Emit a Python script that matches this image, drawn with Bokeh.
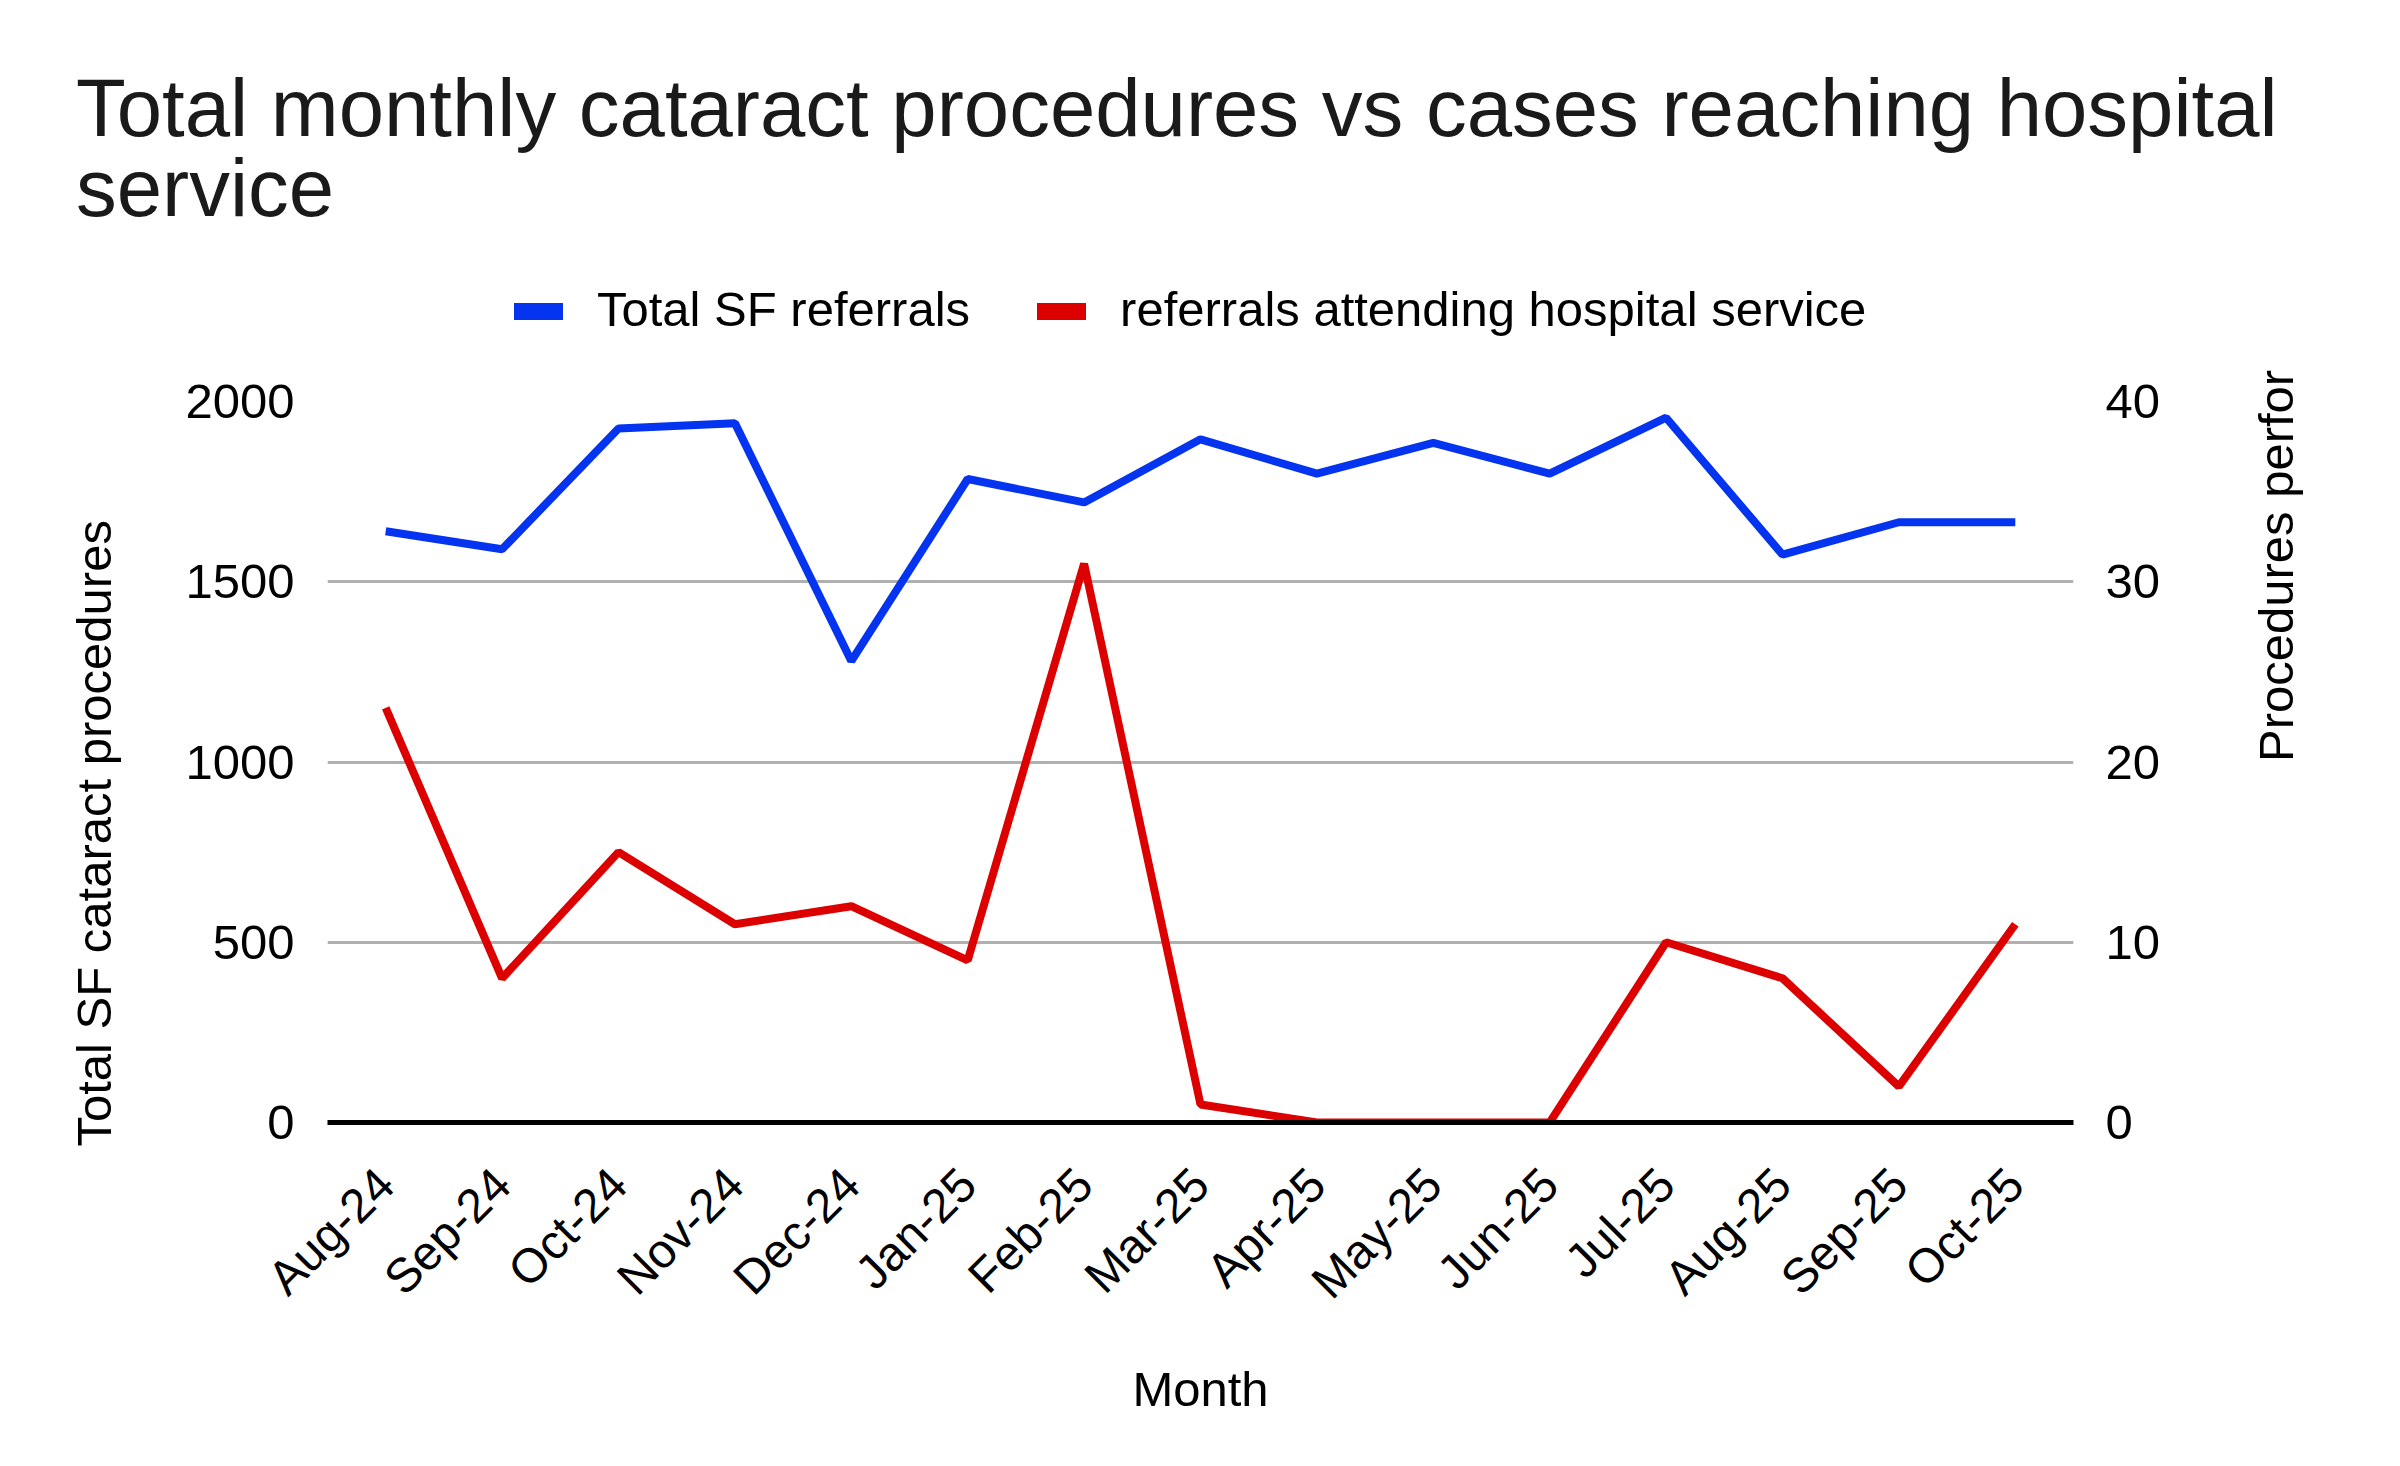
import math
from bokeh.plotting import figure
from bokeh.layouts import column
from bokeh.models import (
    ColumnDataSource, Range1d, LinearAxis, FixedTicker, Title, Div,
)
from bokeh.embed import file_html
from bokeh.resources import INLINE

# --- data ---
months = ["Aug-24", "Sep-24", "Oct-24", "Nov-24", "Dec-24", "Jan-25", "Feb-25",
          "Mar-25", "Apr-25", "May-25", "Jun-25", "Jul-25", "Aug-25", "Sep-25", "Oct-25"]
total_sf_referrals = [1640, 1590, 1925, 1940, 1280, 1785, 1720,
                      1895, 1800, 1885, 1800, 1955, 1575, 1665, 1665]
hospital_referrals = [23, 8, 15, 11, 12, 9, 31, 1, 0, 0, 0, 10, 8, 2, 11]
left_ticks  = [0, 500, 1000, 1500, 2000]
right_ticks = [0, 10, 20, 30, 40]
series_names = ["Total SF referrals", "referrals attending hospital service"]
title_lines = ["Total monthly cataract procedures vs cases reaching hospital", "service"]

BLUE = "#0434ef"
RED  = "#dd0000"
FONT = "Liberation Sans"
TXT  = "#1a1a1a"
W, HEAD_H = 2384, 370

# ---------- header: title and legend ----------
swatch = ("display:inline-block;width:49px;height:17px;background:{};"
          "position:relative;top:2px;")
head_html = f"""
<div style="position:relative;width:{W}px;height:{HEAD_H}px;font-family:'{FONT}';">
  <div style="position:absolute;left:76px;top:68px;font-size:81.5px;line-height:80px;
              color:{TXT};white-space:nowrap;">{title_lines[0]}<br>{title_lines[1]}</div>
  <div style="position:absolute;left:514px;top:285px;display:flex;align-items:center;
              font-size:49px;line-height:49px;color:black;white-space:nowrap;">
    <span style="{swatch.format(BLUE)}"></span>
    <span style="margin-left:34px;">{series_names[0]}</span>
    <span style="{swatch.format(RED)}margin-left:67px;"></span>
    <span style="margin-left:34px;">{series_names[1]}</span>
  </div>
</div>
"""
head = Div(text=head_html, width=W, height=HEAD_H, margin=(0, 0, 0, 0))

# ---------- main chart ----------
p = figure(
    frame_width=1746, frame_height=721,
    x_range=months, y_range=Range1d(0, 2000),
    output_backend="svg", toolbar_location=None, tools="",
    min_border_left=327, min_border_right=311,
    min_border_top=31, min_border_bottom=328,
    outline_line_color=None,
    background_fill_color="white", border_fill_color="white",
)
p.extra_y_ranges = {"hosp": Range1d(0, 40)}

src = ColumnDataSource(dict(month=months, total=total_sf_referrals,
                            hosp=hospital_referrals))
p.line("month", "total", source=src, line_color=BLUE, line_width=8)
p.line("month", "hosp", source=src, y_range_name="hosp",
       line_color=RED, line_width=8)

# grid
p.xgrid.grid_line_color = None
p.ygrid.ticker = FixedTicker(ticks=left_ticks)
p.ygrid.grid_line_color = "#b0b0b0"
p.ygrid.grid_line_width = 3

# left axis
ya = p.yaxis[0]
ya.ticker = FixedTicker(ticks=left_ticks)
ya.axis_line_color = None
ya.major_tick_line_color = None
ya.minor_tick_line_color = None
ya.major_label_standoff = 27
ya.major_label_text_font = FONT
ya.major_label_text_font_size = "49px"
ya.major_label_text_color = "black"

# left axis title, starting a little below the frame bottom
p.add_layout(Title(text="Total SF cataract procedures", align="left", offset=-24,
                   standoff=124, text_font=FONT, text_font_size="49px",
                   text_font_style="normal", text_color="black"), "left")

# right axis (label reads bottom to top, nudged down like the original)
ra = LinearAxis(y_range_name="hosp", ticker=FixedTicker(ticks=right_ticks))
ra.axis_line_color = None
ra.major_tick_line_color = None
ra.minor_tick_line_color = None
ra.major_label_standoff = 26
ra.major_label_text_font = FONT
ra.major_label_text_font_size = "49px"
ra.major_label_text_color = "black"
ra.axis_label = "Procedures performed in hospital service" + "\u00a0" * 11
ra.axis_label_orientation = math.pi / 2
ra.axis_label_text_align = "center"
ra.axis_label_standoff = 113
ra.axis_label_text_font = FONT
ra.axis_label_text_font_size = "49px"
ra.axis_label_text_font_style = "normal"
ra.axis_label_text_color = "black"
p.add_layout(ra, "right")

# x axis
xa = p.xaxis[0]
xa.axis_line_color = "black"
xa.axis_line_width = 5
xa.major_tick_line_color = None
xa.minor_tick_line_color = None
xa.major_label_orientation = math.pi / 4
xa.major_label_standoff = 48
xa.major_label_text_font = FONT
xa.major_label_text_font_size = "48px"
xa.major_label_text_color = "black"
xa.axis_label = "Month"
xa.axis_label_text_font = FONT
xa.axis_label_text_font_size = "49px"
xa.axis_label_text_font_style = "normal"
xa.axis_label_text_color = "black"
xa.axis_label_standoff = 32

layout = column(head, p, spacing=0)
open("out.html", "w").write(file_html(layout, INLINE))
